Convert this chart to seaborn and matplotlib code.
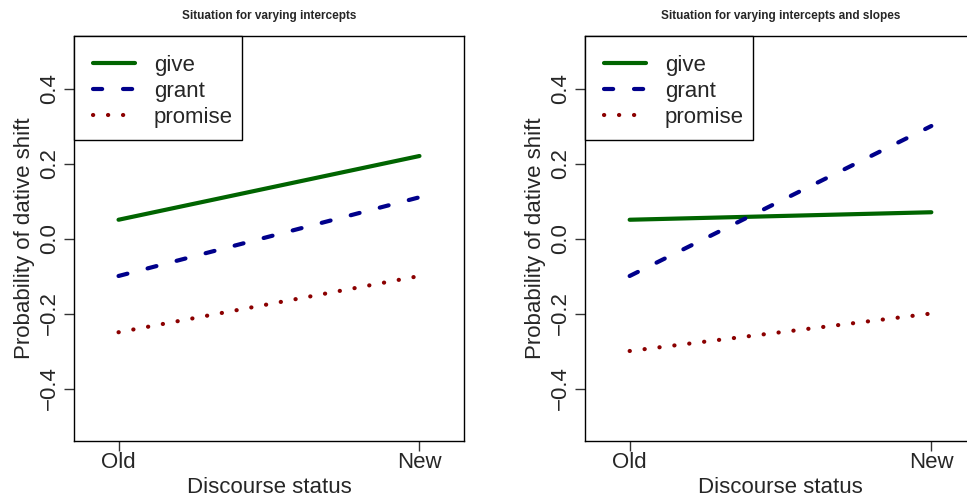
import matplotlib
matplotlib.use("Agg")
import matplotlib.pyplot as plt
import seaborn as sns
import pandas as pd
from matplotlib.lines import Line2D
from matplotlib.patches import Rectangle

# Discourse status levels on the x axis
status = ["Old", "New"]
verbs = ["give", "grant", "promise"]

# Probabilities of dative shift per verb (Old, New)
intercepts_give = [0.05, 0.22]
intercepts_grant = [-0.10, 0.11]
intercepts_promise = [-0.25, -0.10]

slopes_give = [0.05, 0.07]
slopes_grant = [-0.10, 0.30]
slopes_promise = [-0.30, -0.20]

yticks = [-0.4, -0.2, 0.0, 0.2, 0.4]
ytick_labels = ["\u22120.4", "\u22120.2", "0.0", "0.2", "0.4"]

colors = {"give": "#006400", "grant": "#00008B", "promise": "#8B0000"}
styles = {
    "give": "-",
    "grant": (0, (2.2, 5.0)),
    "promise": (0, (0.05, 3.55)),
}
FS = 16


def make_frame(give, grant, promise):
    rows = []
    for verb, vals in zip(verbs, [give, grant, promise]):
        for i, v in enumerate(vals):
            rows.append({"status": i + 1, "verb": verb, "prob": v})
    return pd.DataFrame(rows)


sns.set_style("white")
plt.rcParams["font.family"] = ["Liberation Sans", "DejaVu Sans"]

fig = plt.figure(figsize=(9.67, 5.03), dpi=100)
ax1 = fig.add_axes([74 / 967, 1 - 441 / 503, 390 / 967, 405 / 503])
# the second panel runs slightly past the right edge of the figure
ax2 = fig.add_axes([585 / 967, 1 - 441 / 503, 391 / 967, 405 / 503])

panels = [
    (ax1, make_frame(intercepts_give, intercepts_grant, intercepts_promise),
     "Situation for varying intercepts"),
    (ax2, make_frame(slopes_give, slopes_grant, slopes_promise),
     "Situation for varying intercepts and slopes"),
]

legends = []
for ax, df, title in panels:
    for verb in verbs:
        sub = df[df["verb"] == verb]
        sns.lineplot(data=sub, x="status", y="prob", ax=ax, color=colors[verb],
                     linewidth=3, linestyle=styles[verb],
                     dash_capstyle="round", solid_capstyle="round",
                     legend=False)
    ax.set_xlim(0.852, 2.148)
    ax.set_ylim(-0.54, 0.54)
    ax.set_xticks([1, 2])
    ax.set_xticklabels(status, fontsize=FS)
    ax.set_yticks(yticks)
    ax.set_yticklabels(ytick_labels, fontsize=FS, rotation=90, va="center")
    ax.tick_params(axis="both", direction="out", length=7, width=1,
                   color="#333333", pad=3, left=True, bottom=True)
    ax.tick_params(axis="x", pad=1)
    ax.set_xlabel("Discourse status", fontsize=FS, labelpad=3)
    ax.set_ylabel("Probability of dative shift", fontsize=FS, labelpad=3)
    ax.set_title(title, fontsize=8.5, fontweight="bold", pad=12)
    for sp in ax.spines.values():
        sp.set_visible(True)
        sp.set_color("black")
        sp.set_linewidth(1)

    handles = [Line2D([0], [0], color=colors[v], lw=3, linestyle=styles[v],
                      dash_capstyle="round", solid_capstyle="round")
               for v in verbs]
    leg = ax.legend(handles, verbs, loc="upper left", fontsize=FS,
                    frameon=False, borderaxespad=0,
                    handlelength=1.9, handletextpad=0.85, labelspacing=0.22,
                    borderpad=0.85)
    legends.append((ax, leg))

# legend frame: tighter on the right and bottom than on the left and top
fig.canvas.draw()
for ax, leg in legends:
    bb = leg.get_window_extent()
    px = FS * fig.dpi / 72
    trim_r = 0.45 * px
    trim_b = 0.3 * px
    rect = Rectangle((bb.x0, bb.y0 + trim_b), bb.width - trim_r,
                     bb.height - trim_b,
                     transform=None, facecolor="white", edgecolor="black",
                     linewidth=1, zorder=4)
    fig.add_artist(rect)
    leg.set_zorder(5)
    fig.add_artist(leg)

fig.savefig("out.png", dpi=100)
